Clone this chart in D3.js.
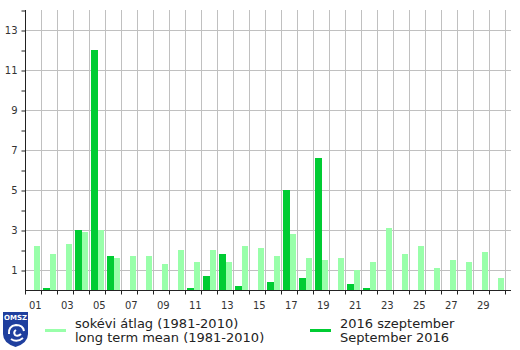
<!DOCTYPE html>
<html><head><meta charset="utf-8">
<script src="https://cdn.jsdelivr.net/npm/d3@7"></script>
<style>body{margin:0;background:#fff}svg{display:block}text{font-family:"DejaVu Sans",sans-serif}</style>
</head><body><svg id="c" width="520" height="350"></svg>
<script>
const days = d3.range(1, 31);
const meanValues = [2.2,1.8,2.3,2.9,3.0,1.6,1.7,1.7,1.3,2.0,1.4,2.0,1.4,2.2,2.1,1.7,2.8,1.6,1.5,1.6,1.0,1.4,3.1,1.8,2.2,1.1,1.5,1.4,1.9,0.6];
const obsValues  = [0,0.1,0,3.0,12.0,1.7,0,0,0,0,0.1,0.7,1.8,0.2,0,0.4,5.0,0.6,6.6,0,0.3,0.1,0,0,0,0,0,0,0,0];
const yTickValues = [1,3,5,7,9,11,13];
const xTickLabels = ["01","03","05","07","09","11","13","15","17","19","21","23","25","27","29"];
const legendMean = ["sokévi átlag (1981-2010)", "long term mean (1981-2010)"];
const legendObs = ["2016 szeptember", "September 2016"];
const colMean = "#99ffaa", colObs = "#00cc33";

const svg = d3.select("#c");
const L = 25, R = 505, T = 10, B = 290, axisEnd = 511;
const x = d3.scaleBand().domain(days).range([L, R]).padding(0);
const x1 = d3.scaleBand().domain(["obs","mean"]).range([2, 15]);
const y = d3.scaleLinear().domain([0, 14]).range([B, T]);

// gridlines
const g = svg.append("g").attr("stroke", "#c0c0c0").attr("stroke-width", 1);
yTickValues.forEach(v => g.append("line").attr("x1", L).attr("x2", axisEnd)
  .attr("y1", Math.round(y(v)) + 0.5).attr("y2", Math.round(y(v)) + 0.5));
days.forEach(d => g.append("line").attr("x1", x(d) + x.bandwidth() + 0.5).attr("x2", x(d) + x.bandwidth() + 0.5)
  .attr("y1", T).attr("y2", B));

// bars
const bars = svg.append("g").attr("shape-rendering", "crispEdges");
bars.selectAll(".m").data(days).join("rect")
  .attr("x", d => x(d) + x1("mean")).attr("width", x1.bandwidth())
  .attr("y", (d, i) => y(meanValues[i])).attr("height", (d, i) => B - y(meanValues[i]))
  .attr("fill", colMean);
bars.selectAll(".o").data(days.filter((d, i) => obsValues[i] > 0)).join("rect")
  .attr("x", d => x(d) + x1("obs")).attr("width", x1.bandwidth())
  .attr("y", d => y(obsValues[d - 1])).attr("height", d => B - y(obsValues[d - 1]))
  .attr("fill", colObs);

// y axis
const yAxis = d3.axisLeft(y).tickValues(d3.range(1, 15)).tickSize(4).tickPadding(4)
  .tickFormat(v => yTickValues.includes(v) ? v : "");
const ya = svg.append("g").attr("transform", `translate(${L + 0.5},0.5)`).call(yAxis);
ya.select(".domain").remove();
ya.append("line").attr("x1", 0).attr("x2", 0).attr("y1", T - 0.5).attr("y2", B).attr("stroke", "#222");
ya.selectAll(".tick line").attr("stroke", "#222");
ya.selectAll("text").attr("font-size", 10).attr("fill", "#333").attr("font-family", "DejaVu Sans");

// x axis
const xa = svg.append("g").attr("transform", `translate(0,${B + 0.5})`);
xa.append("line").attr("x1", L).attr("x2", axisEnd).attr("stroke", "#222");
[L].concat(days.map(d => x(d) + x.bandwidth())).forEach(px =>
  xa.append("line").attr("x1", px + 0.5).attr("x2", px + 0.5).attr("y1", 0).attr("y2", 4).attr("stroke", "#222"));
xTickLabels.forEach(t => xa.append("text").attr("x", x(+t) + 4).attr("y", 18.5)
  .attr("font-size", 10).attr("fill", "#333").text(t));

// legend
const lg = svg.append("g");
lg.append("line").attr("x1", 45).attr("x2", 66).attr("y1", 330.5).attr("y2", 330.5).attr("stroke", colMean).attr("stroke-width", 3);
lg.append("line").attr("x1", 310).attr("x2", 331).attr("y1", 330.5).attr("y2", 330.5).attr("stroke", colObs).attr("stroke-width", 3);
legendMean.forEach((t, i) => lg.append("text").attr("x", 75).attr("y", 328 + i * 14).attr("font-size", 13).attr("fill", "#222").text(t));
legendObs.forEach((t, i) => lg.append("text").attr("x", 340).attr("y", 328 + i * 14).attr("font-size", 13).attr("fill", "#222").text(t));

// logo
const logo = svg.append("g").attr("transform", "translate(3,312)");
logo.append("path").attr("d", "M0,0 H25 V22 Q25,31 12.5,35 Q0,31 0,22 Z").attr("fill", "#1f3f9e");
logo.append("text").attr("x", 12.5).attr("y", 8).attr("text-anchor", "middle").attr("font-size", 7)
  .attr("font-weight", "bold").attr("fill", "#fff").text("OMSZ");
logo.append("path").attr("d", "M6,22 Q5,14 13,13 Q20,13 21,19 M13,18 Q10,20 12,23 Q15,25 18,22 M8,27 Q14,31 20,26")
  .attr("fill", "none").attr("stroke", "#fff").attr("stroke-width", 2);
</script></body></html>
